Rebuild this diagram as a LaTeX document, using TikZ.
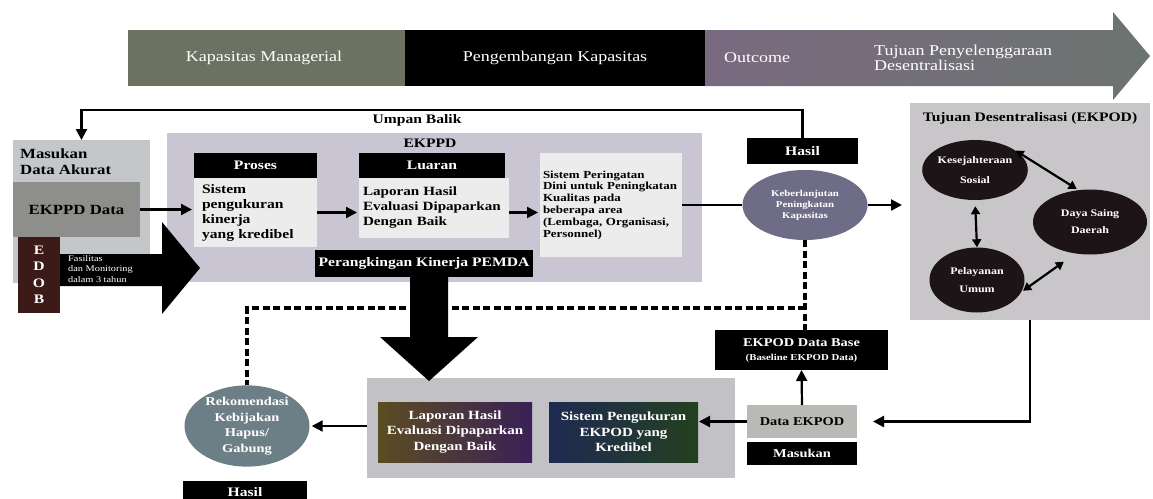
\documentclass[tikz,border=0pt]{standalone}
\usepackage{fontspec}
\setmainfont{Liberation Serif}[FakeStretch=1.2]
\usetikzlibrary{arrows.meta, shapes.geometric, positioning}

\definecolor{managerial}{HTML}{6B7262}
\definecolor{outcomeleft}{HTML}{7A6A80}
\definecolor{outcomeright}{HTML}{6C7470}
\definecolor{masukgray}{HTML}{C3C7C9}
\definecolor{datagray}{HTML}{8E8E8C}
\definecolor{edobbrown}{HTML}{3B1A18}
\definecolor{ekppdbg}{HTML}{C9C5D3}
\definecolor{paper}{HTML}{ECECEC}
\definecolor{lestarifill}{HTML}{6E6C86}
\definecolor{tujuanbg}{HTML}{C8C6C9}
\definecolor{darkblob}{HTML}{1C1416}
\definecolor{bottombg}{HTML}{C2C2C6}
\definecolor{lapleft}{HTML}{5A4D22}
\definecolor{lapright}{HTML}{3A2056}
\definecolor{ukurleft}{HTML}{1F2A52}
\definecolor{ukurright}{HTML}{23401F}
\definecolor{rekomfill}{HTML}{6D7F86}
\definecolor{dataekpodbg}{HTML}{B9BAB5}

\begin{document}
\hyphenpenalty=10000
\exhyphenpenalty=10000
\begin{tikzpicture}[x=1pt, y=-1pt,
    panel/.style={anchor=north west, inner sep=0pt, outer sep=0pt},
    blackbar/.style={panel, fill=black, text=white, align=center,
      font=\bfseries\fontsize{13}{15}\selectfont},
    bodytext/.style={font=\bfseries\fontsize{13}{15}\selectfont},
    bannertext/.style={text=white, align=left, font=\fontsize{15}{15}\selectfont},
    blob/.style={ellipse, inner sep=0pt, text=white, align=center},
    link/.style={line width=2.2pt, -{Triangle[length=11pt, width=11pt]}},
    twoway/.style={line width=2.2pt,
      {Triangle[length=8pt, width=9pt]}-{Triangle[length=8pt, width=9pt]}},
    dashlink/.style={line width=3.4pt, dash pattern=on 7pt off 3.5pt}]

  \useasboundingbox (0,0) rectangle (1153,498);

  % banner
  \fill[managerial] (128,30) rectangle (405,86);
  \fill[black] (405,30) rectangle (705,86);
  \shade[left color=outcomeleft, right color=outcomeright]
    (705,30) -- (1113,30) -- (1113,12) -- (1150,56) -- (1113,100) -- (1113,86) -- (705,86) -- cycle;
  \node[bannertext] (managerial) at (264,58) {Kapasitas Managerial};
  \node[bannertext] (pengembangan) at (555,58) {Pengembangan Kapasitas};
  \node[bannertext] (outcome) at (757,58) {Outcome};
  \node[bannertext, anchor=west, inner sep=0pt] (tujuanpenyel) at (874,58) {Tujuan Penyelenggaraan\\Desentralisasi};

  % input side
  \node[panel, fill=masukgray, minimum width=137, minimum height=143] (masukan) at (13,140) {};
  \node[bodytext, anchor=north west, align=left, inner sep=0pt,
    font=\bfseries\fontsize{14}{15.5}\selectfont] (masukanlbl) at (20,149) {Masukan\\Data Akurat};
  \node[panel, fill=datagray, minimum width=127, minimum height=55,
    font=\bfseries\fontsize{14}{15}\selectfont] (ekppddata) at (13,182) {EKPPD Data};
  \node[panel, fill=edobbrown, minimum width=42, minimum height=76, text=white, align=center,
    font=\bfseries\fontsize{13}{16.5}\selectfont] (edob) at (18,237) {E\\D\\O\\B};

  % EKPPD block
  \node[panel, fill=ekppdbg, minimum width=535, minimum height=149] (ekppd) at (167,133) {};
  \node[bodytext] (umpanbalik) at (417,120) {Umpan Balik};
  \node[bodytext] (ekppdlbl) at (430,143) {EKPPD};
  \node[blackbar, minimum width=123, minimum height=25] (proses) at (194,153) {Proses};
  \node[panel, fill=paper, minimum width=123, minimum height=69, inner xsep=8pt, text width=107,
    align=left, bodytext] (prosesbody) at (proses.south west) {Sistem\\pengukuran\\kinerja\\yang kredibel};
  \node[blackbar, minimum width=146, minimum height=25] (luaran) at (359,153) {Luaran};
  \node[panel, fill=paper, minimum width=146, minimum height=60, inner xsep=4pt, text width=142,
    align=left, font=\bfseries\fontsize{12.6}{15}\selectfont] (luaranbody) at (luaran.south west)
    {Laporan Hasil\\Evaluasi Dipaparkan\\Dengan Baik};
  \node[blackbar, minimum width=218, minimum height=27] (ranking) at (315,250) {Perangkingan Kinerja PEMDA};
  \node[panel, fill=paper, minimum width=142, minimum height=104, inner xsep=3pt, text width=136,
    align=left, font=\bfseries\fontsize{10.8}{11.8}\selectfont] (peringatan) at (540,153)
    {Sistem Peringatan\\Dini untuk Peningkatan\\Kualitas pada\\beberapa area\\(Lembaga, Organisasi,\\Personnel)};

  % big arrow out of EDOB
  \fill[black] (60,254) -- (162,254) -- (162,222) -- (200,268) -- (162,314) -- (162,286) -- (60,286) -- cycle;
  \node[anchor=west, text=white, align=left, inner sep=0pt,
    font=\fontsize{8.6}{10.5}\selectfont] (fasilitas) at (68,269) {Fasilitas\\dan Monitoring\\dalam 3 tahun};

  % outcome ellipse and goals
  \node[blob, fill=lestarifill, minimum width=125, minimum height=70,
    font=\bfseries\fontsize{9}{11}\selectfont] (lestari) at (805,205) {Keberlanjutan\\Peningkatan\\Kapasitas};
  \node[blackbar, minimum width=111, minimum height=26] (hasiltop) at (747,138) {Hasil};
  \node[panel, fill=tujuanbg, minimum width=240, minimum height=217] (tujuan) at (910,103) {};
  \node[bodytext] (tujuanlbl) at (1030,118) {Tujuan Desentralisasi (EKPOD)};
  \node[blob, fill=darkblob, minimum width=96, minimum height=60,
    font=\bfseries\fontsize{10}{20}\selectfont] (sejahtera) at (975,170) {Kesejahteraan\\Sosial};
  \node[blob, fill=darkblob, minimum width=95, minimum height=65,
    font=\bfseries\fontsize{10}{18}\selectfont] (pelayanan) at (977,280) {Pelayanan\\Umum};
  \node[blob, fill=darkblob, minimum width=114, minimum height=65,
    font=\bfseries\fontsize{10}{17}\selectfont] (dayasaing) at (1090,222) {Daya Saing\\Daerah};

  % lower loop
  \node[blackbar, minimum width=173, minimum height=40, font=\bfseries\fontsize{12}{14}\selectfont] (dbase) at (715,330)
    {EKPOD Data Base\\{\fontsize{9}{11}\selectfont(Baseline EKPOD Data)}};
  \node[panel, fill=dataekpodbg, minimum width=110, minimum height=33,
    font=\bfseries\fontsize{12}{14}\selectfont] (dataekpod) at (747,405) {Data EKPOD};
  \node[blackbar, minimum width=110, minimum height=23, font=\bfseries\fontsize{12}{14}\selectfont] (masukanbot) at (747,442) {Masukan};
  \node[panel, fill=bottombg, minimum width=368, minimum height=100] (evalbox) at (367,378) {};
  \node[panel, left color=lapleft, right color=lapright, minimum width=154, minimum height=60, text=white,
    align=center, font=\bfseries\fontsize{12.5}{15.5}\selectfont] (laporanbawah) at (378,402)
    {Laporan Hasil\\Evaluasi Dipaparkan\\Dengan Baik};
  \node[panel, left color=ukurleft, right color=ukurright, minimum width=149, minimum height=60, text=white,
    align=center, font=\bfseries\fontsize{12.5}{15.5}\selectfont] (ukur) at (549,402)
    {Sistem Pengukuran\\EKPOD yang\\Kredibel};
  \node[blob, fill=rekomfill, minimum width=125, minimum height=78,
    font=\bfseries\fontsize{12}{15.5}\selectfont] (rekom) at (247,426) {Rekomendasi\\Kebijakan\\Hapus/\\Gabung};
  \node[blackbar, minimum width=124, minimum height=22] (hasilbot) at (183,481) {Hasil};

  % connectors
  \draw[link] (hasiltop.north) -- ++(0,-28) -| (masukan.north);
  \draw[link, shorten >=2pt] (ekppddata.east) -- (prosesbody.west |- ekppddata.east);
  \draw[link, shorten >=2pt] (prosesbody.east) -- (luaranbody.west |- prosesbody.east);
  \draw[link, shorten >=2pt] (luaranbody.east |- prosesbody.east) -- (peringatan.west |- prosesbody.east);
  \draw[line width=2.2pt] (peringatan.east |- lestari.west) -- (lestari.west);
  \draw[link, shorten >=8pt] (lestari.east) -- (tujuan.west |- lestari.east);
  \draw[twoway, shorten <=6pt] (sejahtera.south) -- (pelayanan.north);
  \draw[twoway, shorten <=4pt, shorten >=2pt] (sejahtera.30) -- (dayasaing.110);
  \draw[twoway, shorten <=2pt, shorten >=14pt] (pelayanan.-15) -- (dayasaing.-115);

  \coordinate (dashknee) at (lestari.south |- 0,308);
  \draw[dashlink] (lestari.south) -- (lestari.south |- dbase.north);
  \draw[dashlink] (dashknee) -| (rekom.north);

  % big arrow down to the evaluation
  \fill[black] (410,277) -- (448,277) -- (448,337) -- (478,337) -- (429,381) -- (380,337) -- (410,337) -- cycle;

  \draw[link, shorten >=16pt] (tujuan.south) |- (dataekpod.east);
  \draw[link] (dataekpod.north) -- (dbase.south);
  \draw[link, shorten >=1pt] (dataekpod.west) -- (ukur.east |- dataekpod.west);
  \draw[link, shorten >=2pt] (evalbox.west |- rekom.east) -- (rekom.east);
\end{tikzpicture}
\end{document}
